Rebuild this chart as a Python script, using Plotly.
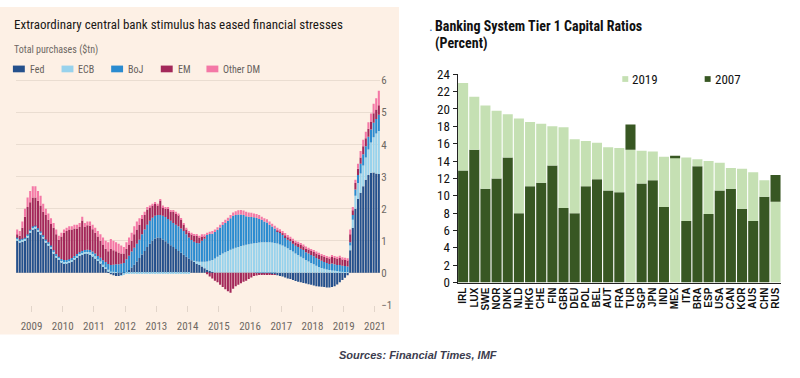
import plotly.graph_objects as go

# ---------------- Left chart: central bank purchases ($tn), monthly Jan 2009 - Aug 2020
start_year = 2009
fed = [1.0, 0.95, 0.97, 1.0, 1.1, 1.25, 1.35, 1.38, 1.3, 1.2, 1.08, 0.95,
       0.85, 0.75, 0.6, 0.48, 0.4, 0.33, 0.3, 0.3, 0.32, 0.36, 0.42, 0.48,
       0.53, 0.57, 0.6, 0.6, 0.58, 0.52, 0.45, 0.37, 0.3, 0.2, 0.12, 0.05,
       -0.05, -0.08, -0.1, -0.1, -0.08, -0.03, 0.02, 0.08, 0.16, 0.25, 0.35, 0.46,
       0.57, 0.68, 0.8, 0.9, 1.0, 1.07, 1.1, 1.08, 1.04, 0.98, 0.92, 0.86,
       0.8, 0.74, 0.68, 0.62, 0.56, 0.5, 0.44, 0.39, 0.34, 0.29, 0.24, 0.19,
       0.14, 0.09, 0.05, 0.02, 0.0, 0.0, 0.0, 0.0, 0.0, 0.0, 0.0, 0.0,
       0.0, 0.0, 0.0, 0.0, 0.0, 0.0, 0.0, 0.0, -0.01, -0.02, -0.02, -0.03,
       -0.03, -0.04, -0.05, -0.06, -0.08, -0.1, -0.12, -0.15, -0.18, -0.2, -0.23, -0.26,
       -0.28, -0.3, -0.32, -0.34, -0.36, -0.38, -0.4, -0.42, -0.43, -0.44, -0.45, -0.46,
       -0.46, -0.45, -0.42, -0.37, -0.3, -0.23, -0.16, -0.08, 0.7, 1.4, 2.0, 2.3,
       2.5, 2.7, 2.9, 3.05, 3.12, 3.13, 3.1, 3.08]
ecb = [0.06, 0.06, 0.06, 0.06, 0.06, 0.06, 0.06, 0.06, 0.06, 0.06, 0.06, 0.06,
       0.06, 0.06, 0.06, 0.06, 0.06, 0.06, 0.06, 0.06, 0.06, 0.06, 0.06, 0.06,
       0.06, 0.06, 0.06, 0.06, 0.06, 0.06, 0.06, 0.05, 0.05, 0.05, 0.05, 0.04,
       0.04, 0.03, 0.02, 0.0, -0.02, -0.03, -0.03, -0.03, -0.03, -0.03, -0.03, -0.03,
       -0.03, -0.03, -0.03, -0.03, -0.03, -0.03, -0.03, -0.03, -0.03, -0.03, -0.03, -0.03,
       -0.03, -0.03, -0.03, -0.03, -0.03, -0.03, -0.03, 0.0, 0.03, 0.06, 0.1, 0.15,
       0.2, 0.26, 0.32, 0.38, 0.44, 0.5, 0.55, 0.6, 0.64, 0.68, 0.72, 0.75,
       0.78, 0.8, 0.83, 0.85, 0.87, 0.89, 0.9, 0.92, 0.93, 0.94, 0.95, 0.95,
       0.95, 0.95, 0.94, 0.93, 0.91, 0.88, 0.85, 0.81, 0.76, 0.71, 0.66, 0.6,
       0.55, 0.5, 0.45, 0.4, 0.35, 0.3, 0.26, 0.22, 0.18, 0.15, 0.12, 0.1,
       0.08, 0.07, 0.06, 0.05, 0.04, 0.03, 0.02, 0.02, 0.15, 0.25, 0.4, 0.5,
       0.6, 0.65, 0.7, 0.8, 0.95, 1.1, 1.25, 1.35]
boj = [0.03, 0.03, 0.03, 0.03, 0.03, 0.03, 0.03, 0.03, 0.03, 0.03, 0.03, 0.03,
       0.04, 0.04, 0.04, 0.04, 0.04, 0.04, 0.04, 0.04, 0.04, 0.04, 0.04, 0.04,
       0.05, 0.05, 0.05, 0.06, 0.07, 0.08, 0.09, 0.1, 0.12, 0.14, 0.16, 0.18,
       0.2, 0.22, 0.24, 0.26, 0.28, 0.3, 0.4, 0.45, 0.5, 0.53, 0.55, 0.57,
       0.63, 0.67, 0.7, 0.72, 0.72, 0.71, 0.7, 0.72, 0.74, 0.76, 0.76, 0.76,
       0.75, 0.76, 0.77, 0.76, 0.74, 0.7, 0.66, 0.63, 0.6, 0.58, 0.58, 0.66,
       0.72, 0.83, 0.84, 0.82, 0.83, 0.84, 0.86, 0.89, 0.91, 0.94, 0.98, 1.03,
       1.02, 1.02, 0.99, 0.95, 0.89, 0.86, 0.84, 0.81, 0.78, 0.74, 0.7, 0.65,
       0.62, 0.55, 0.5, 0.45, 0.39, 0.36, 0.33, 0.3, 0.27, 0.27, 0.24, 0.24,
       0.25, 0.25, 0.26, 0.24, 0.25, 0.25, 0.25, 0.24, 0.24, 0.22, 0.21, 0.2,
       0.19, 0.22, 0.2, 0.19, 0.2, 0.19, 0.19, 0.17, 0.1, 0.15, 0.2, 0.25,
       0.3, 0.35, 0.35, 0.4, 0.4, 0.45, 0.45, 0.5]
em = [0.11, 0.11, 0.34, 0.66, 0.86, 0.86, 0.91, 0.88, 0.86, 0.81, 0.73, 0.76,
      0.7, 0.67, 0.7, 0.62, 0.53, 0.7, 0.85, 0.9, 0.93, 0.89, 0.86, 0.8,
      0.79, 0.95, 0.72, 0.76, 0.76, 0.7, 0.65, 0.61, 0.53, 0.49, 0.42, 0.4,
      0.51, 0.45, 0.41, 0.37, 0.32, 0.3, 0.33, 0.35, 0.34, 0.42, 0.45, 0.47,
      0.48, 0.45, 0.47, 0.42, 0.38, 0.37, 0.3, 0.45, 0.27, 0.26, 0.32, 0.28,
      0.35, 0.35, 0.35, 0.27, 0.2, 0.15, 0.15, 0.18, 0.18, 0.22, 0.18, 0.14,
      0.08, -0.05, -0.12, -0.18, -0.25, -0.3, -0.38, -0.45, -0.52, -0.58, -0.63, -0.5,
      -0.42, -0.38, -0.33, -0.28, -0.25, -0.2, -0.15, -0.1, -0.08, -0.05, -0.04, -0.03,
      -0.03, -0.02, -0.02, -0.01, 0.02, 0.04, 0.05, 0.06, 0.08, 0.08, 0.1, 0.1,
      0.11, 0.12, 0.12, 0.13, 0.13, 0.14, 0.14, 0.15, 0.15, 0.16, 0.17, 0.17,
      0.18, 0.2, 0.2, 0.2, 0.22, 0.2, 0.2, 0.2, 0.25, 0.15, 0.2, 0.2,
      0.2, 0.25, 0.25, 0.25, 0.25, 0.3, 0.3, 0.3]
other_dm = [0.15, 0.15, 0.2, 0.25, 0.3, 0.35, 0.35, 0.35, 0.3, 0.3, 0.25, 0.2,
            0.2, 0.18, 0.15, 0.15, 0.12, 0.12, 0.1, 0.1, 0.1, 0.1, 0.12, 0.12,
            0.12, 0.12, 0.12, 0.12, 0.13, 0.14, 0.15, 0.17, 0.2, 0.22, 0.25, 0.28,
            0.3, 0.3, 0.28, 0.27, 0.25, 0.2, 0.2, 0.22, 0.25, 0.25, 0.25, 0.2,
            0.12, 0.1, 0.08, 0.06, 0.05, 0.05, 0.05, 0.05, 0.05, 0.05, 0.05, 0.05,
            0.05, 0.05, 0.05, 0.05, 0.05, 0.05, 0.05, 0.05, 0.05, 0.05, 0.05, 0.06,
            0.06, 0.07, 0.07, 0.08, 0.08, 0.08, 0.09, 0.09, 0.1, 0.1, 0.1, 0.1,
            0.12, 0.13, 0.14, 0.14, 0.14, 0.13, 0.13, 0.12, 0.12, 0.12, 0.1, 0.1,
            0.1, 0.1, 0.09, 0.09, 0.08, 0.08, 0.07, 0.07, 0.07, 0.06, 0.06, 0.06,
            0.06, 0.06, 0.05, 0.05, 0.05, 0.05, 0.05, 0.05, 0.05, 0.05, 0.05, 0.05,
            0.05, 0.06, 0.06, 0.06, 0.07, 0.06, 0.06, 0.06, 0.15, 0.1, 0.1, 0.15,
            0.2, 0.2, 0.2, 0.2, 0.25, 0.3, 0.35, 0.45]
series_names = ["Fed", "ECB", "BoJ", "EM", "Other DM"]
series_colors = ["#24508c", "#98d2ec", "#2a8bd0", "#a3285a", "#f478a6"]
year_labels = ["2009", "2010", "2011", "2012", "2013", "2014", "2015",
               "2016", "2017", "2018", "2019", "2021"]
left_yticks = [-1, 0, 1, 2, 3, 4, 5, 6]

# ---------------- Right chart: Tier 1 capital ratios (%)
countries = ["IRL", "LUX", "SWE", "NOR", "DNK", "NLD", "HKG", "CHE", "FIN", "GBR",
             "DEU", "POL", "BEL", "AUT", "FRA", "TUR", "SGP", "JPN", "IND", "MEX",
             "ITA", "BRA", "ESP", "USA", "CAN", "KOR", "AUS", "CHN", "RUS"]
tier1_2019 = [23.0, 21.4, 20.4, 19.8, 19.4, 18.9, 18.5, 18.3, 18.0, 17.9,
              16.5, 16.3, 16.1, 15.6, 15.5, 15.3, 15.2, 15.1, 14.5, 14.4,
              14.4, 14.2, 14.0, 13.8, 13.2, 13.1, 12.7, 11.8, 9.3]
tier1_2007 = [12.9, 15.3, 10.8, 12.0, 14.4, 8.0, 11.1, 11.5, 13.5, 8.6,
              8.0, 11.1, 11.9, 10.6, 10.4, 18.2, 11.4, 11.8, 8.7, 14.6,
              7.1, 13.4, 7.9, 10.6, 10.8, 8.5, 7.1, 9.9, 12.4]
col_2019 = "#c5e0b3"
col_2007 = "#385723"

NARROW = "Liberation Sans Narrow, Arial Narrow, Roboto Condensed, Liberation Sans, sans-serif"
ARIAL = "Liberation Sans, Arial, sans-serif"
W, H = 800, 378


def px(x):
    return x / W


def py(y):
    return 1 - y / H


fig = go.Figure()

# left stacked bars
months = [start_year + (i + 0.5) / 12 for i in range(len(fed))]
for name, vals, colr in zip(series_names, [fed, ecb, boj, em, other_dm], series_colors):
    fig.add_trace(go.Bar(x=months, y=vals, name=name, marker_color=colr,
                         marker_line_width=0, width=0.8 / 12,
                         xaxis="x", yaxis="y", showlegend=False))

# right bars: smaller value in front (drawn as base), larger one on top
low = [min(a, b) for a, b in zip(tier1_2019, tier1_2007)]
high_extra = [max(a, b) - min(a, b) for a, b in zip(tier1_2019, tier1_2007)]
low_cols = [col_2019 if a <= b else col_2007 for a, b in zip(tier1_2019, tier1_2007)]
high_cols = [col_2007 if a <= b else col_2019 for a, b in zip(tier1_2019, tier1_2007)]
fig.add_trace(go.Bar(x=countries, y=low, marker_color=low_cols, marker_line_width=0,
                     width=0.9, xaxis="x2", yaxis="y2", showlegend=False))
fig.add_trace(go.Bar(x=countries, y=high_extra, marker_color=high_cols, marker_line_width=0,
                     width=0.9, xaxis="x2", yaxis="y2", showlegend=False))

shapes = [
    # FT pink panel
    dict(type="rect", xref="paper", yref="paper", x0=0, x1=px(402), y0=py(341), y1=py(0),
         fillcolor="#fdf0e5", line_width=0, layer="below"),
]
annotations = []

# left title, subtitle
annotations.append(dict(text="Extraordinary central bank stimulus has eased financial stresses",
                        x=px(12), y=py(18), xref="paper", yref="paper", xanchor="left",
                        yanchor="middle", showarrow=False,
                        font=dict(family=NARROW, size=13, color="#1a1816")))
annotations.append(dict(text="Total purchases ($tn)", x=px(12), y=py(44), xref="paper",
                        yref="paper", xanchor="left", yanchor="middle", showarrow=False,
                        font=dict(family=NARROW, size=10, color="#6e6863")))
# left legend (manual)
leg_x = [13, 62, 112, 162, 208]
for lx, name, colr in zip(leg_x, series_names, series_colors):
    shapes.append(dict(type="rect", xref="paper", yref="paper", x0=px(lx), x1=px(lx + 12),
                       y0=py(68), y1=py(61), fillcolor=colr, line_width=0))
    annotations.append(dict(text=name, x=px(lx + 15), y=py(65), xref="paper", yref="paper",
                            xanchor="left", yanchor="middle", showarrow=False,
                            font=dict(family=NARROW, size=10, color="#66605c")))

# right title
annotations.append(dict(text=".", x=px(430), y=py(20), xref="paper", yref="paper",
                        xanchor="left", yanchor="middle", showarrow=False,
                        font=dict(family=ARIAL, size=13, color="#2f6fc0")))
annotations.append(dict(text="<b>Banking System Tier 1 Capital Ratios</b>", x=px(436), y=py(20),
                        xref="paper", yref="paper", xanchor="left", yanchor="middle",
                        showarrow=False, font=dict(family=NARROW, size=14, color="#111111")))
annotations.append(dict(text="<b>(Percent)</b>", x=px(436), y=py(38), xref="paper", yref="paper",
                        xanchor="left", yanchor="middle", showarrow=False,
                        font=dict(family=NARROW, size=14, color="#111111")))
# right legend (manual)
for lx, name, colr in [(627, "2019", col_2019), (710, "2007", col_2007)]:
    shapes.append(dict(type="rect", xref="paper", yref="paper", x0=px(lx), x1=px(lx + 6),
                       y0=py(78), y1=py(72), fillcolor=colr, line_width=0))
    annotations.append(dict(text=name, x=px(lx + 8), y=py(75), xref="paper", yref="paper",
                            xanchor="left", yanchor="middle", showarrow=False,
                            font=dict(family=NARROW, size=13, color="#111111")))

# sources
annotations.append(dict(text="<b><i>Sources: Financial Times, IMF</i></b>", x=px(421), y=py(362),
                        xref="paper", yref="paper", xanchor="center", yanchor="middle",
                        showarrow=False, font=dict(family=ARIAL, size=11, color="#3c3c4e")))

n_months = len(fed)
fig.update_layout(
    width=W, height=H, autosize=False,
    margin=dict(l=0, r=0, t=0, b=0),
    paper_bgcolor="white", plot_bgcolor="rgba(0,0,0,0)",
    barmode="relative", bargap=0.15,
    shapes=shapes, annotations=annotations,
    xaxis=dict(domain=[px(16), px(383)], anchor="y",
               range=[start_year, start_year + n_months / 12],
               tickmode="array",
               tickvals=[start_year + k + 0.5 for k in range(len(year_labels))],
               ticktext=year_labels, ticks="outside", ticklen=6, tickcolor="#e2d5ca",
               ticklabelstandoff=5,
               showgrid=False, zeroline=False, showline=False,
               tickfont=dict(family=NARROW, size=11, color="#6e6863")),
    yaxis=dict(domain=[py(310), py(75)], anchor="x", side="right",
               range=[-1.0, 6.05], tickmode="array", tickvals=left_yticks,
               showgrid=True, gridcolor="#eaddd1", gridwidth=1,
               zeroline=True, zerolinecolor="#ddd0c4", zerolinewidth=1,
               ticks="", showline=False,
               tickfont=dict(family=NARROW, size=11, color="#6e6863")),
    xaxis2=dict(domain=[px(461), px(787)], anchor="y2", type="category",
                tickmode="array", tickvals=countries, ticktext=countries,
                tickangle=-90, showline=True, linecolor="#222222", linewidth=1,
                ticks="", showgrid=False,
                tickfont=dict(family=ARIAL, size=10, color="#111111", weight="bold")),
    yaxis2=dict(domain=[py(287), py(70)], anchor="x2", range=[0, 24], dtick=2,
                showline=True, linecolor="#222222", linewidth=1, ticks="outside",
                ticklen=4, tickcolor="#222222", showgrid=False, zeroline=False,
                tickfont=dict(family=NARROW, size=13, color="#111111")),
)

fig.write_html("out.html", config={"displayModeBar": False},
               post_script="document.body.style.margin='0';document.body.style.overflow='hidden';")
